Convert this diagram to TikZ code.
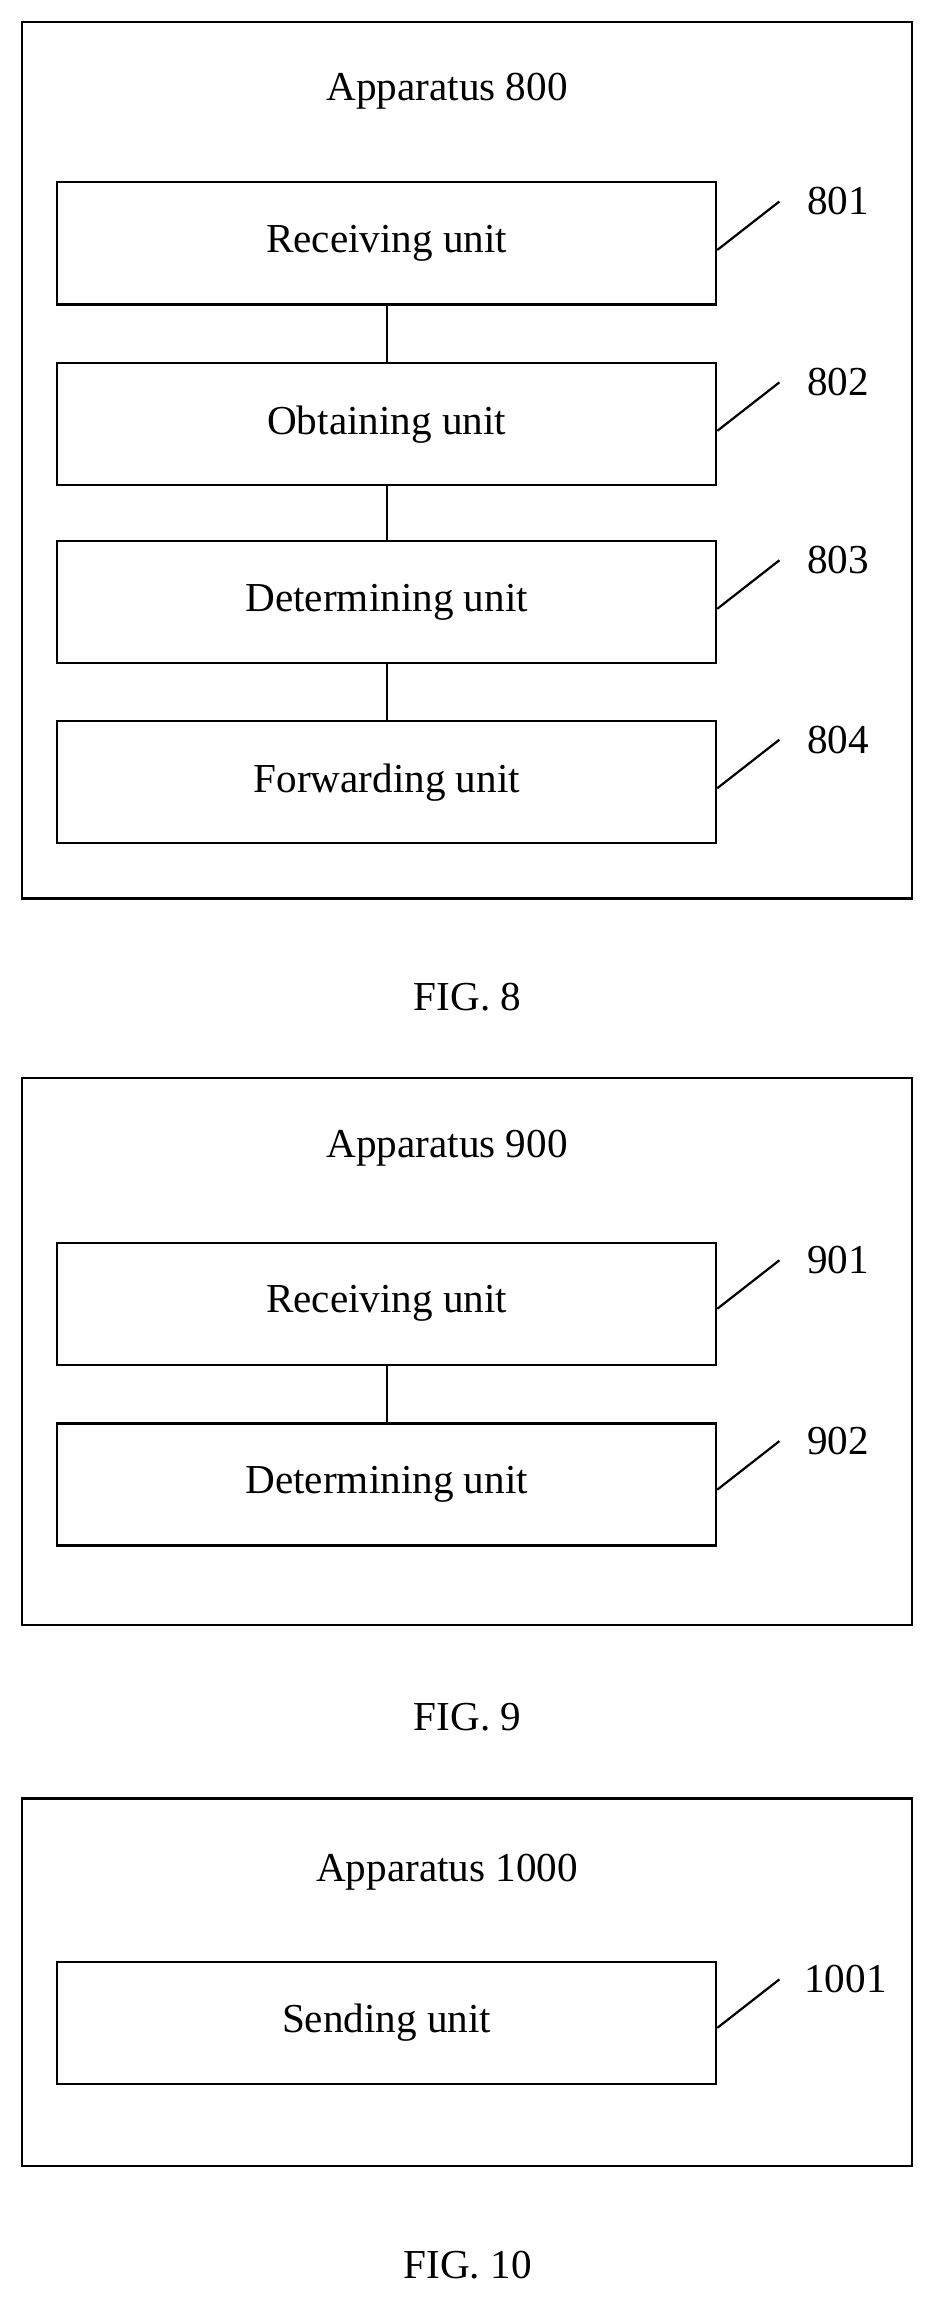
\documentclass[tikz,border=0pt]{standalone}
\usepackage{fontspec}
\setmainfont{Liberation Serif}
\begin{document}
\begin{tikzpicture}[x=1pt,y=-1pt,line width=1.5pt,
  txt/.style={font=\fontsize{28}{32}\selectfont},
  unit/.style={draw,minimum width=448pt,minimum height=83pt,inner sep=0pt,font=\fontsize{28}{32}\selectfont}]
\useasboundingbox (0,0) rectangle (640,1579);
% FIG 8
\node[draw,minimum width=605pt,minimum height=596pt,inner sep=0pt] (o8) at (317.5,313) {};
\node[txt] (t8) at (304,62) {Apparatus 800};
\node[unit] (a1) at (263,165.5) {Receiving unit};
\node[unit] (a2) at (263,288.5) {Obtaining unit};
\node[unit] (a3) at (263,409.5) {Determining unit};
\node[unit] (a4) at (263,532) {Forwarding unit};
\draw (a1)--(a2) (a2)--(a3) (a3)--(a4);
\foreach \n/\y/\l in {a1/137/801,a2/260/802,a3/381/803,a4/503/804}{
  \coordinate (c\n) at (530,\y);
  \draw (\n.east |- 0,\y+33) -- (c\n);
  \node[txt] (l\n) at (570,\y) {\l};}
\node[txt] (f8) at (318,678) {FIG. 8};
% FIG 9
\node[draw,minimum width=605pt,minimum height=372pt,inner sep=0pt] (o9) at (317.5,919) {};
\node[txt] (t9) at (304,781) {Apparatus 900};
\node[unit] (b1) at (263,886.5) {Receiving unit};
\node[unit] (b2) at (263,1009.5) {Determining unit};
\draw (b1)--(b2);
\foreach \n/\y/\l in {b1/857/901,b2/980/902}{
  \coordinate (c\n) at (530,\y);
  \draw (\n.east |- 0,\y+33) -- (c\n);
  \node[txt] (l\n) at (570,\y) {\l};}
\node[txt] (f9) at (318,1168) {FIG. 9};
% FIG 10
\node[draw,minimum width=605pt,minimum height=250pt,inner sep=0pt] (o10) at (317.5,1348) {};
\node[txt] (t10) at (304,1273) {Apparatus 1000};
\node[unit] (s1) at (263,1375.5) {Sending unit};
\coordinate (cs1) at (530,1346);
\draw (s1.east |- 0,1379) -- (cs1);
\node[txt] (ls1) at (575,1346) {1001};
\node[txt] (f10) at (318,1540) {FIG. 10};
\end{tikzpicture}
\end{document}
